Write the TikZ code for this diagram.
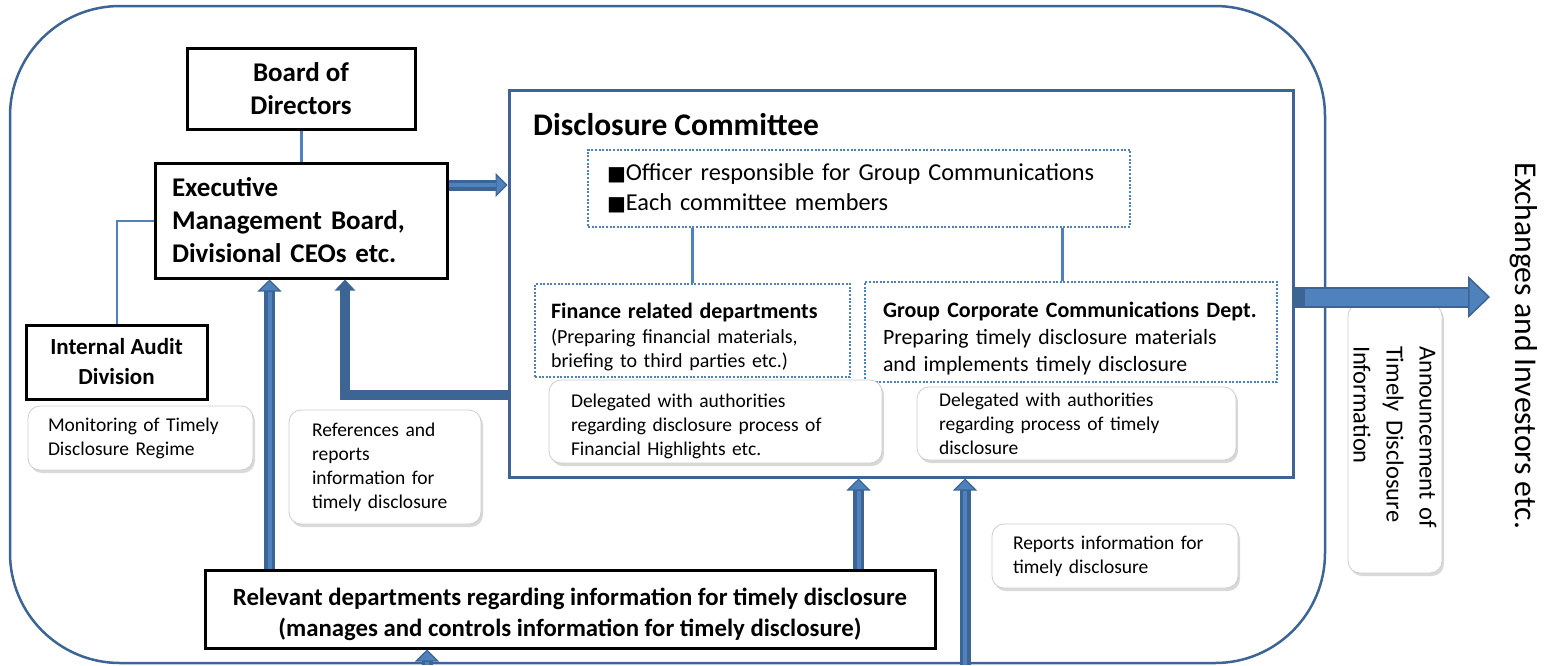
\documentclass[tikz,border=0pt]{standalone}
\usepackage{fontspec}
\setmainfont{Carlito}
\newfontfamily\symfont{DejaVu Sans}
\usetikzlibrary{arrows.meta, positioning, shadows}
\definecolor{frameBlue}{RGB}{60,100,148}
\definecolor{linkBlue}{RGB}{79,129,189}
\definecolor{noteGray}{RGB}{205,205,205}

\tikzset{
  orgbox/.style={draw=black, line width=3pt, fill=white, inner sep=0pt},
  dotbox/.style={draw=linkBlue, line width=2pt, dash pattern=on 2pt off 1.6pt,
    fill=white, inner sep=0pt},
  note/.style={draw=noteGray, line width=0.8pt, fill=white, rounded corners=12pt,
    inner sep=0pt, drop shadow={shadow xshift=2pt, shadow yshift=-3pt, opacity=0.3}},
  link/.style={draw=linkBlue, line width=3pt},
  dblarrow/.style={draw=frameBlue, line width=11pt,
    -{Triangle[length=12pt, width=24pt, fill=linkBlue, line width=1.2pt 0]},
    postaction={draw=linkBlue, line width=4pt, arrows=-, shorten >=12pt}},
  solidarrow/.style={draw=frameBlue, line width=10pt,
    -{Triangle[length=11pt, width=20pt]}},
  bigarrow/.style={draw=frameBlue, line width=21pt,
    -{Triangle[length=22pt, width=42pt, fill=linkBlue, line width=1.5pt 0]},
    postaction={draw=linkBlue, line width=17pt, arrows=-, shorten >=22pt, shorten <=10pt}},
  bigbold/.style={font=\bfseries\fontsize{27}{33}\selectfont},
  notefont/.style={font=\fontsize{19.5}{24}\selectfont}
}

\begin{document}
\begin{tikzpicture}[x=1pt, y=-1pt]
\useasboundingbox (0,0) rectangle (1544,665);
% outer frame
\draw[frameBlue, line width=2.5pt, rounded corners=110pt] (10,6) rectangle (1325,663);

% left column
\node[orgbox, bigbold, minimum width=228pt, minimum height=81pt, align=center]
  (board) at (301,88.5) {Board of\\Directors};
\node[orgbox, bigbold, minimum width=292pt, minimum height=115pt, text width=258pt,
  align=left] (exec) at (301,220.5)
  {Executive\\Management Board,\\Divisional CEOs etc.};
\node[orgbox, font=\bfseries\fontsize{23}{30}\selectfont, minimum width=181pt,
  minimum height=74pt, align=center] (audit) at (116.5,362) {Internal Audit\\Division};
\node[note, notefont, minimum width=225pt, minimum height=64pt, text width=185pt,
  align=left] (monitor) at (140.5,438) {Monitoring of Timely\\Disclosure Regime};
\node[note, notefont, minimum width=192pt, minimum height=114pt, text width=146pt,
  align=left] (refnote) at (385,467)
  {References and\\reports\\information for\\timely disclosure};

% disclosure committee
\node[draw=frameBlue, line width=3pt, fill=white, minimum width=784pt,
  minimum height=387pt, inner sep=0pt] (committee) at (901,283.5) {};
\node[font=\bfseries\fontsize{31.5}{36}\selectfont, anchor=base west, inner sep=0pt]
  (ctitle) at (533,135) {Disclosure Committee};
\node[dotbox, font=\fontsize{24.3}{30}\selectfont, minimum width=542pt,
  minimum height=77pt, text width=504pt, align=left] (members) at (859,188.5)
  {{\symfont\fontsize{20}{30}\selectfont ■}Officer responsible for Group Communications\\
   {\symfont\fontsize{20}{30}\selectfont ■}Each committee members};
\node[dotbox, font=\fontsize{20}{24.5}\selectfont, minimum width=315pt,
  minimum height=93pt, text width=283pt, align=left] (finance) at (692.5,330.5)
  {\rule{0pt}{29pt}{\fontsize{22}{27}\selectfont\bfseries Finance related departments}\\
   (Preparing financial materials,\\briefing to third parties etc.)};
\node[dotbox, font=\fontsize{21.8}{27}\selectfont, minimum width=412pt,
  minimum height=100pt, text width=376pt, align=left] (gcc) at (1071,332)
  {\rule{0pt}{29pt}{\fontsize{22}{27}\selectfont\bfseries Group Corporate Communications Dept.}\\
   Preparing timely disclosure materials\\and implements timely disclosure};
\node[note, notefont, minimum width=333pt, minimum height=83pt, text width=289pt,
  align=left] (delfin) at (715.5,421.5)
  {\rule{0pt}{24pt}Delegated with authorities\\regarding disclosure process of\\Financial Highlights etc.};
\node[note, notefont, minimum width=319pt, minimum height=73pt, text width=275pt,
  align=left] (delgcc) at (1076.5,423.5)
  {Delegated with authorities\\regarding process of timely\\disclosure};
\draw[link] (members.south -| finance.north) -- (finance.north);
\coordinate (gccTop) at ([xshift=-9pt]gcc.north);
\draw[link] (members.south -| gccTop) -- (gccTop);

% bottom
\node[orgbox, font=\bfseries\fontsize{24.8}{31}\selectfont, minimum width=730pt,
  minimum height=78pt, align=center] (relevant) at (570,609)
  {\rule{0pt}{27.5pt}Relevant departments regarding information for timely disclosure\\
   (manages and controls information for timely disclosure)};
\node[note, notefont, minimum width=246pt, minimum height=64pt, text width=204pt,
  align=left] (repnote) at (1115,556) {Reports information for\\timely disclosure};

% right side
\node[note, rotate=-90, font=\fontsize{24.5}{33}\selectfont, minimum width=269pt,
  minimum height=94pt, text width=185pt, align=left] (announce) at (1395,438.5)
  {Announcement of\\Timely Disclosure\\Information};
\node[rotate=-90, anchor=south, inner ysep=20pt, font=\fontsize{31.7}{36}\selectfont]
  (exchanges) at (1490,346) {Exchanges and Investors etc.};

% connectors
\draw[link] (board.south) -- (exec.north);
\draw[link, line width=2pt] (exec.west) -| (audit.north);
\coordinate (bendpt) at (345,395);
\coordinate (inA) at (427,665);
\coordinate (inB) at (965,665);
\coordinate (upL) at ([xshift=66pt]relevant.north west);
\coordinate (upR) at ([xshift=-78pt]relevant.north east);
\coordinate (toCom) at ([yshift=35.5pt]exec.east);
\coordinate (outC) at ([yshift=-13.5pt]committee.east);
\draw[dblarrow] (upL) -- (upL |- exec.south);
\draw[solidarrow] (committee.west |- bendpt) -| (exec.south -| bendpt);
\draw[dblarrow] (toCom) -- (toCom -| committee.west);
\draw[dblarrow] (upR) -- (upR |- committee.south);
\draw[dblarrow] (inB) -- (inB |- committee.south);
\draw[dblarrow] (inA) -- (relevant.south -| inA);
\draw[bigarrow] (outC) -- (outC -| exchanges.south);
\end{tikzpicture}
\end{document}
